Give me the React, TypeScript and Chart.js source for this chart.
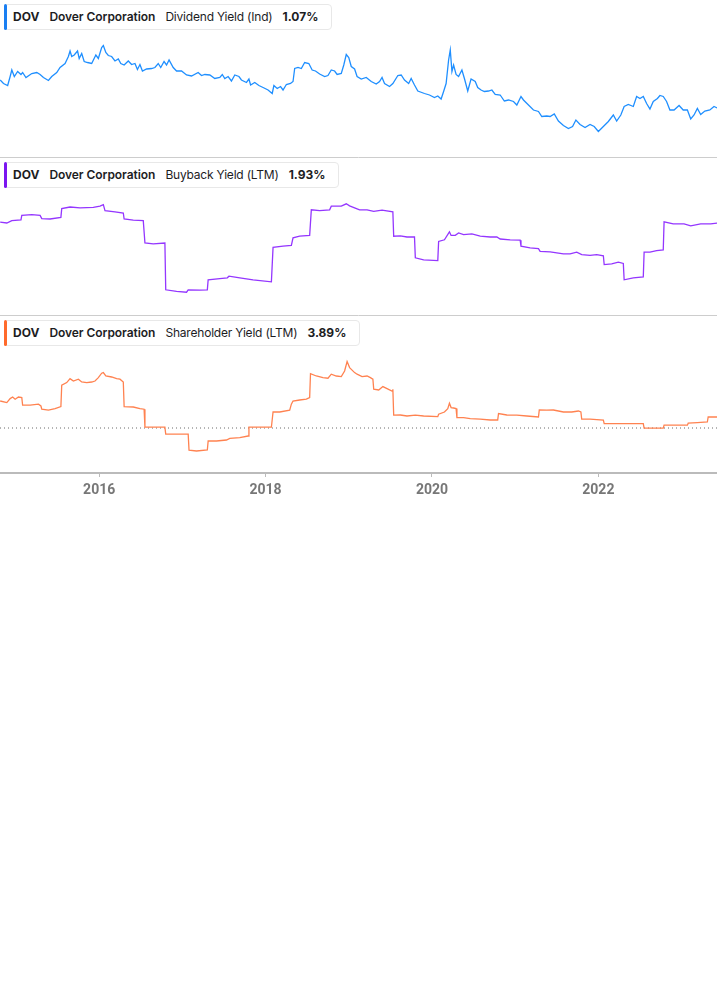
import React, { useEffect, useRef } from "react";
import { Chart, registerables } from "chart.js";

Chart.register(...registerables);

// ---------- axis ----------
const X_MIN = 2014.808;
const X_MAX = 2023.426;
const X_TICKS = [2016, 2018, 2020, 2022];

// ---------- legend text ----------
const TICKER = "DOV";
const COMPANY = "Dover Corporation";
const METRICS = ["Dividend Yield (Ind)", "Buyback Yield (LTM)", "Shareholder Yield (LTM)"];
const LATEST = ["1.07%", "1.93%", "3.89%"];

// ---------- Dividend Yield (Ind), % ----------
const DIV_DATES = [
  2014.81, 2014.85, 2014.90, 2014.93, 2014.95, 2014.98, 2015.02, 2015.06, 2015.08, 2015.12,
  2015.19, 2015.25, 2015.29, 2015.33, 2015.39, 2015.43, 2015.49, 2015.53, 2015.59, 2015.63,
  2015.65, 2015.67, 2015.70, 2015.74, 2015.76, 2015.79, 2015.82, 2015.86, 2015.91, 2015.96,
  2015.99, 2016.03, 2016.05, 2016.08, 2016.11, 2016.15, 2016.19, 2016.23, 2016.26, 2016.30,
  2016.35, 2016.39, 2016.43, 2016.46, 2016.49, 2016.52, 2016.57, 2016.63, 2016.67, 2016.71,
  2016.74, 2016.78, 2016.81, 2016.84, 2016.89, 2016.93, 2016.99, 2017.05, 2017.11, 2017.19,
  2017.23, 2017.27, 2017.33, 2017.39, 2017.45, 2017.48, 2017.51, 2017.55, 2017.59, 2017.63,
  2017.68, 2017.71, 2017.77, 2017.80, 2017.82, 2017.87, 2017.92, 2017.97, 2018.03, 2018.08,
  2018.10, 2018.14, 2018.18, 2018.21, 2018.25, 2018.30, 2018.33, 2018.35, 2018.39, 2018.43,
  2018.47, 2018.52, 2018.56, 2018.60, 2018.65, 2018.71, 2018.75, 2018.79, 2018.83, 2018.86,
  2018.91, 2018.94, 2018.97, 2019.00, 2019.03, 2019.07, 2019.10, 2019.15, 2019.21, 2019.27,
  2019.33, 2019.37, 2019.40, 2019.43, 2019.49, 2019.53, 2019.59, 2019.63, 2019.67, 2019.72,
  2019.75, 2019.79, 2019.83, 2019.91, 2019.97, 2020.03, 2020.07, 2020.11, 2020.14, 2020.17,
  2020.20, 2020.22, 2020.24, 2020.26, 2020.29, 2020.32, 2020.36, 2020.39, 2020.43, 2020.47,
  2020.52, 2020.55, 2020.59, 2020.63, 2020.68, 2020.72, 2020.76, 2020.82, 2020.87, 2020.92,
  2020.98, 2021.02, 2021.07, 2021.10, 2021.16, 2021.22, 2021.28, 2021.32, 2021.38, 2021.42,
  2021.47, 2021.52, 2021.58, 2021.64, 2021.69, 2021.73, 2021.78, 2021.84, 2021.90, 2021.95,
  2022.00, 2022.06, 2022.12, 2022.18, 2022.22, 2022.27, 2022.31, 2022.36, 2022.42, 2022.46,
  2022.50, 2022.54, 2022.58, 2022.62, 2022.66, 2022.71, 2022.74, 2022.78, 2022.82, 2022.86,
  2022.91, 2022.97, 2023.02, 2023.07, 2023.11, 2023.15, 2023.19, 2023.23, 2023.28, 2023.34,
  2023.39, 2023.43,
];
const DIV_YIELD = [
  1.63, 1.56, 1.52, 1.70, 1.83, 1.70, 1.80, 1.74, 1.78, 1.68,
  1.76, 1.78, 1.74, 1.68, 1.62, 1.70, 1.78, 1.88, 1.96, 2.10,
  2.21, 2.10, 2.13, 2.21, 2.06, 2.16, 2.00, 1.98, 1.96, 2.13,
  2.06, 2.28, 2.32, 2.18, 2.12, 2.10, 2.01, 2.05, 1.96, 1.93,
  2.01, 1.94, 1.96, 1.84, 1.94, 1.81, 1.85, 1.86, 1.88, 1.96,
  1.88, 2.00, 1.93, 2.03, 1.88, 1.81, 1.81, 1.73, 1.71, 1.78,
  1.72, 1.74, 1.73, 1.66, 1.68, 1.74, 1.66, 1.70, 1.61, 1.73,
  1.70, 1.63, 1.58, 1.65, 1.53, 1.58, 1.52, 1.48, 1.43, 1.36,
  1.52, 1.46, 1.50, 1.43, 1.54, 1.56, 1.60, 1.86, 1.88, 1.86,
  1.98, 1.96, 1.83, 1.81, 1.75, 1.70, 1.72, 1.83, 1.81, 1.74,
  1.76, 1.93, 2.14, 2.08, 1.90, 1.85, 1.70, 1.65, 1.68, 1.60,
  1.55, 1.60, 1.68, 1.56, 1.50, 1.56, 1.72, 1.73, 1.63, 1.56,
  1.66, 1.53, 1.41, 1.36, 1.33, 1.28, 1.31, 1.25, 1.40, 1.56,
  2.03, 2.23, 1.80, 1.93, 1.74, 1.70, 1.83, 1.66, 1.41, 1.65,
  1.60, 1.48, 1.43, 1.40, 1.41, 1.43, 1.34, 1.33, 1.21, 1.23,
  1.20, 1.13, 1.30, 1.23, 1.13, 1.03, 1.00, 0.90, 0.91, 0.90,
  0.95, 0.81, 0.72, 0.66, 0.70, 0.83, 0.74, 0.68, 0.74, 0.70,
  0.60, 0.70, 0.80, 0.93, 0.81, 0.93, 1.10, 1.14, 1.10, 1.30,
  1.26, 1.30, 1.16, 1.05, 1.20, 1.26, 1.32, 1.30, 1.20, 1.03,
  1.03, 1.12, 1.03, 1.03, 0.85, 0.93, 1.06, 0.94, 1.01, 1.03,
  1.10, 1.07,
];

// ---------- Buyback Yield (LTM), % ----------
const BUY_DATES = [
  2014.81, 2014.89, 2014.95, 2015.06, 2015.07, 2015.19, 2015.29, 2015.31, 2015.41, 2015.54,
  2015.55, 2015.65, 2015.77, 2015.93, 2016.01, 2016.05, 2016.07, 2016.19, 2016.29, 2016.30,
  2016.41, 2016.53, 2016.55, 2016.65, 2016.79, 2016.80, 2016.93, 2017.05, 2017.07, 2017.21,
  2017.30, 2017.31, 2017.45, 2017.54, 2017.56, 2017.69, 2017.85, 2018.07, 2018.09, 2018.21,
  2018.31, 2018.33, 2018.41, 2018.53, 2018.55, 2018.65, 2018.77, 2018.79, 2018.91, 2018.97,
  2019.01, 2019.07, 2019.13, 2019.22, 2019.30, 2019.40, 2019.53, 2019.54, 2019.62, 2019.70,
  2019.79, 2019.80, 2019.90, 2020.07, 2020.08, 2020.15, 2020.21, 2020.23, 2020.28, 2020.32,
  2020.38, 2020.48, 2020.58, 2020.70, 2020.78, 2020.82, 2020.94, 2021.06, 2021.07, 2021.18,
  2021.28, 2021.30, 2021.42, 2021.58, 2021.66, 2021.74, 2021.80, 2021.90, 2021.98, 2022.06,
  2022.07, 2022.16, 2022.24, 2022.30, 2022.31, 2022.42, 2022.54, 2022.55, 2022.62, 2022.70,
  2022.78, 2022.79, 2022.90, 2023.03, 2023.11, 2023.23, 2023.35, 2023.43,
];
const BUY_YIELD = [
  1.95, 1.93, 1.99, 2.01, 2.12, 2.14, 2.12, 2.04, 2.03, 2.07,
  2.29, 2.33, 2.31, 2.32, 2.35, 2.39, 2.24, 2.21, 2.18, 2.03,
  2.00, 1.99, 1.43, 1.41, 1.43, 0.26, 0.22, 0.20, 0.26, 0.25,
  0.26, 0.51, 0.54, 0.56, 0.60, 0.56, 0.51, 0.46, 1.32, 1.35,
  1.37, 1.56, 1.60, 1.62, 2.26, 2.24, 2.26, 2.35, 2.35, 2.41,
  2.36, 2.31, 2.26, 2.26, 2.22, 2.25, 2.21, 1.60, 1.61, 1.58,
  1.58, 1.06, 1.01, 0.99, 1.47, 1.51, 1.71, 1.62, 1.62, 1.68,
  1.64, 1.66, 1.60, 1.58, 1.58, 1.53, 1.51, 1.50, 1.35, 1.31,
  1.29, 1.22, 1.21, 1.16, 1.16, 1.20, 1.14, 1.12, 1.14, 1.11,
  0.89, 0.91, 0.95, 0.92, 0.51, 0.56, 0.58, 1.20, 1.20, 1.24,
  1.26, 1.96, 1.91, 1.91, 1.86, 1.91, 1.91, 1.93,
];

// ---------- Shareholder Yield (LTM), % ----------
const SHY_DATES = [
  2014.81, 2014.89, 2014.93, 2014.96, 2014.99, 2015.03, 2015.07, 2015.08, 2015.17, 2015.27,
  2015.30, 2015.31, 2015.39, 2015.47, 2015.54, 2015.55, 2015.61, 2015.65, 2015.69, 2015.75,
  2015.79, 2015.85, 2015.91, 2015.95, 2015.99, 2016.03, 2016.05, 2016.08, 2016.15, 2016.21,
  2016.25, 2016.29, 2016.30, 2016.41, 2016.49, 2016.54, 2016.55, 2016.69, 2016.79, 2016.80,
  2016.93, 2017.07, 2017.08, 2017.17, 2017.30, 2017.31, 2017.41, 2017.53, 2017.57, 2017.69,
  2017.79, 2017.80, 2017.93, 2018.07, 2018.09, 2018.17, 2018.29, 2018.31, 2018.33, 2018.41,
  2018.49, 2018.53, 2018.54, 2018.61, 2018.69, 2018.75, 2018.79, 2018.85, 2018.91, 2018.95,
  2018.98, 2019.01, 2019.07, 2019.10, 2019.16, 2019.22, 2019.26, 2019.29, 2019.30, 2019.36,
  2019.41, 2019.46, 2019.52, 2019.53, 2019.54, 2019.62, 2019.70, 2019.80, 2019.90, 2020.07,
  2020.08, 2020.15, 2020.19, 2020.21, 2020.23, 2020.26, 2020.29, 2020.30, 2020.38, 2020.46,
  2020.58, 2020.70, 2020.79, 2020.80, 2020.90, 2021.02, 2021.14, 2021.28, 2021.29, 2021.38,
  2021.46, 2021.58, 2021.68, 2021.76, 2021.79, 2021.80, 2021.90, 2022.06, 2022.07, 2022.18,
  2022.30, 2022.42, 2022.54, 2022.55, 2022.66, 2022.78, 2022.79, 2022.94, 2023.07, 2023.08,
  2023.19, 2023.31, 2023.32, 2023.43,
];
const SHY_YIELD = [
  4.69, 4.61, 4.81, 4.89, 4.78, 4.89, 4.86, 4.48, 4.48, 4.53,
  4.44, 4.28, 4.23, 4.31, 4.41, 5.48, 5.61, 5.81, 5.69, 5.78,
  5.64, 5.61, 5.64, 5.69, 5.86, 6.08, 6.11, 5.94, 5.89, 5.81,
  5.78, 5.64, 4.41, 4.39, 4.31, 4.28, 3.38, 3.38, 3.38, 3.03,
  3.03, 3.03, 2.23, 2.19, 2.24, 2.69, 2.69, 2.74, 2.82, 2.86,
  2.94, 3.38, 3.38, 3.38, 4.14, 4.14, 4.23, 4.53, 4.69, 4.74,
  4.78, 4.86, 6.06, 5.94, 5.86, 5.83, 6.03, 5.94, 5.91, 6.19,
  6.66, 6.36, 6.11, 6.03, 5.91, 5.94, 5.86, 5.78, 5.28, 5.24,
  5.41, 5.31, 5.19, 5.28, 3.98, 3.99, 3.94, 3.98, 3.94, 3.91,
  4.03, 4.14, 4.31, 4.58, 4.36, 4.34, 4.31, 3.86, 3.86, 3.81,
  3.78, 3.74, 3.74, 4.06, 3.99, 3.98, 3.94, 3.89, 4.24, 4.23,
  4.24, 4.14, 4.14, 4.19, 4.14, 3.78, 3.78, 3.74, 3.56, 3.56,
  3.56, 3.56, 3.56, 3.34, 3.33, 3.33, 3.48, 3.48, 3.48, 3.58,
  3.61, 3.64, 3.89, 3.89,
];
const SHY_REFERENCE = 3.34;

const separatorPlugin = {
  id: "sep",
  afterDraw(chart: any, _args: any, opts: any) {
    if (!opts || !opts.show) return;
    const { ctx, width, height } = chart;
    ctx.save();
    ctx.strokeStyle = "#cdcdcd";
    ctx.lineWidth = 1;
    ctx.beginPath();
    ctx.moveTo(0, height - 0.5);
    ctx.lineTo(width, height - 0.5);
    ctx.stroke();
    ctx.restore();
  },
};

type PanelProps = {
  xs: number[];
  ys: number[];
  color: string;
  barColor: string;
  yMin: number;
  yMax: number;
  height: number;
  axis: boolean;
  separator: boolean;
  refLevel?: number;
  metric: string;
  latest: string;
};

function Legend({ barColor, metric, latest }: { barColor: string; metric: string; latest: string }) {
  return (
    <div
      style={{
        position: "absolute",
        left: 4,
        top: 4,
        height: 26,
        boxSizing: "border-box",
        border: "1px solid #e8e8e8",
        borderRadius: 4,
        background: "#fff",
        display: "flex",
        alignItems: "center",
        paddingLeft: 8,
        paddingRight: 13,
        fontFamily: "Inter, 'Noto Sans', sans-serif",
        fontSize: 12,
        lineHeight: "14px",
        color: "#1d1d1f",
        whiteSpace: "nowrap",
      }}
    >
      <div
        style={{
          position: "absolute",
          left: -1,
          top: -1,
          bottom: -1,
          width: 3,
          borderRadius: 2,
          background: barColor,
        }}
      />
      <span style={{ fontWeight: 700, marginRight: 10 }}>{TICKER}</span>
      <span style={{ fontWeight: 600, marginRight: 10, letterSpacing: "-0.05px" }}>{COMPANY}</span>
      <span style={{ fontWeight: 400, marginRight: 10, letterSpacing: "-0.2px" }}>{metric}</span>
      <span style={{ fontWeight: 700 }}>{latest}</span>
    </div>
  );
}

function Panel(p: PanelProps) {
  const ref = useRef<HTMLCanvasElement | null>(null);
  useEffect(() => {
    const canvas = ref.current;
    if (!canvas) return;
    const datasets: any[] = [
      {
        data: p.xs.map((x, i) => ({ x, y: p.ys[i] })),
        borderColor: p.color,
        borderWidth: 1.3,
        pointRadius: 0,
        tension: 0,
        fill: false,
      },
    ];
    if (p.refLevel !== undefined) {
      datasets.push({
        data: [
          { x: X_MIN, y: p.refLevel },
          { x: X_MAX, y: p.refLevel },
        ],
        borderColor: "#6a6a6a",
        borderWidth: 1,
        borderDash: [1, 3],
        pointRadius: 0,
        fill: false,
      });
    }
    const chart = new Chart(canvas, {
      type: "line",
      data: { datasets },
      options: {
        responsive: false,
        animation: false,
        events: [],
        layout: { padding: 0 },
        plugins: {
          legend: { display: false },
          tooltip: { enabled: false },
          sep: { show: p.separator },
        } as any,
        scales: {
          x: {
            type: "linear",
            display: p.axis,
            min: X_MIN,
            max: X_MAX,
            afterBuildTicks: (s: any) => {
              s.ticks = X_TICKS.map((v) => ({ value: v }));
            },
            afterFit: (s: any) => {
              s.height = p.axis ? 33 : 0;
            },
            ticks: {
              callback: (v: any) => String(v),
              color: "#777777",
              font: { family: "Roboto", size: 14, weight: "bold" },
              padding: 5,
              maxRotation: 0,
              autoSkip: false,
            },
            grid: {
              drawOnChartArea: false,
              drawTicks: true,
              tickLength: 4,
              color: "#bbbbbb",
            },
            border: { display: true, color: "#bbbbbb", width: 2 },
          },
          y: { display: false, min: p.yMin, max: p.yMax },
        },
      } as any,
      plugins: [separatorPlugin],
    });
    return () => chart.destroy();
  }, []);
  return (
    <div style={{ position: "relative", width: 717, height: p.height }}>
      <canvas
        ref={ref}
        width={717}
        height={p.height}
        style={{ display: "block", width: 717, height: p.height }}
      />
      <Legend barColor={p.barColor} metric={p.metric} latest={p.latest} />
    </div>
  );
}

export default function App() {
  useEffect(() => {
    document.body.style.margin = "0";
    document.body.style.background = "#ffffff";
  }, []);
  return (
    <div style={{ width: 717, background: "#fff" }}>
      <Panel
        xs={DIV_DATES}
        ys={DIV_YIELD}
        color="#1f8fff"
        barColor="#1a7ff2"
        yMin={0.07}
        yMax={3.23}
        height={158}
        axis={false}
        separator={true}
        metric={METRICS[0]}
        latest={LATEST[0]}
      />
      <Panel
        xs={BUY_DATES}
        ys={BUY_YIELD}
        color="#9436ff"
        barColor="#7b16f0"
        yMin={-0.395}
        yMax={3.555}
        height={158}
        axis={false}
        separator={true}
        metric={METRICS[1]}
        latest={LATEST[1]}
      />
      <Panel
        xs={SHY_DATES}
        ys={SHY_YIELD}
        color="#ff8250"
        barColor="#ff6a2b"
        yMin={1.09}
        yMax={8.94}
        height={190}
        axis={true}
        separator={false}
        refLevel={SHY_REFERENCE}
        metric={METRICS[2]}
        latest={LATEST[2]}
      />
    </div>
  );
}
